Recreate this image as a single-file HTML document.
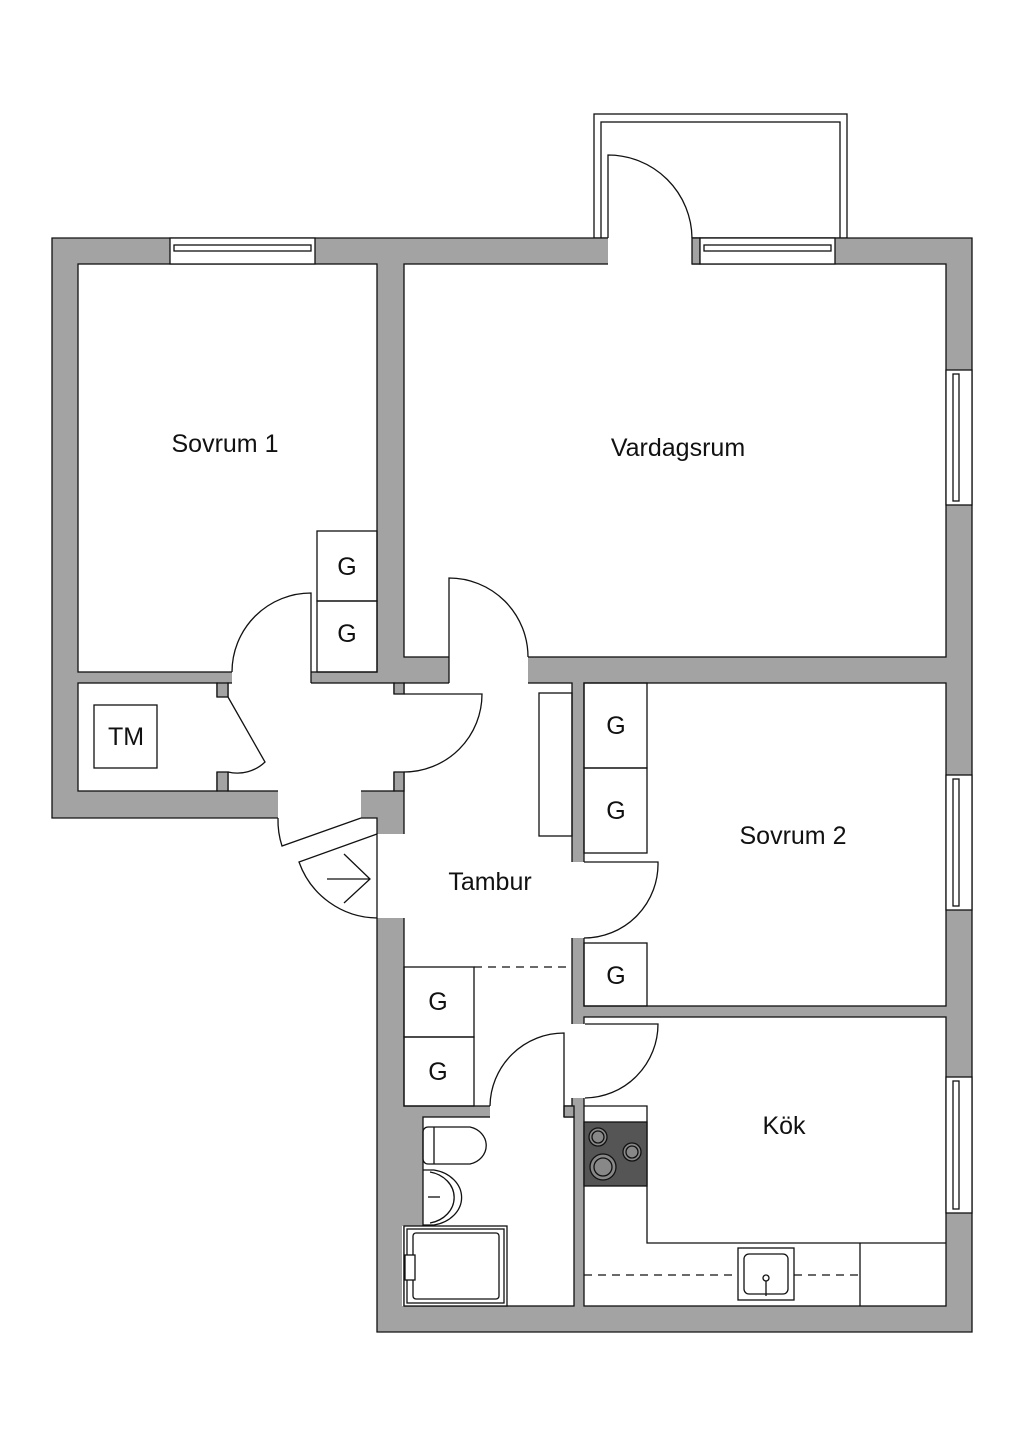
<!DOCTYPE html>
<html><head><meta charset="utf-8"><style>
html,body{margin:0;padding:0;background:#fff}
svg{display:block}
text{font-family:"Liberation Sans","DejaVu Sans",sans-serif;fill:#111}
</style></head><body>
<svg width="1024" height="1448" viewBox="0 0 1024 1448" xmlns="http://www.w3.org/2000/svg">
<g stroke="#111" stroke-width="1.3">
<rect x="594" y="114" width="253" height="124" fill="#fff"/>
<rect x="601" y="122" width="239" height="116" fill="#fff"/>
<polygon points="52,238 972,238 972,1332 377,1332 377,818 52,818" fill="#a3a3a3"/>
<rect x="78" y="264" width="299" height="408" fill="#fff"/>
<rect x="404" y="264" width="542" height="393" fill="#fff"/>
<rect x="78" y="683" width="139" height="108" fill="#fff"/>
<rect x="228" y="683" width="166" height="108" fill="#fff"/>
<rect x="404" y="683" width="168" height="423" fill="#fff"/>
<rect x="584" y="683" width="362" height="323" fill="#fff"/>
<rect x="584" y="1017" width="362" height="289" fill="#fff"/>
<rect x="423" y="1117" width="151" height="189" fill="#fff"/>
</g>
<g fill="#fff">
<rect x="232" y="670" width="79" height="15"/>
<rect x="278" y="789" width="83" height="30"/>
<rect x="215" y="697" width="15" height="75"/>
<rect x="392" y="694" width="14" height="78"/>
<rect x="449" y="655" width="79" height="30"/>
<rect x="375" y="834" width="31" height="84"/>
<rect x="570" y="862" width="16" height="76"/>
<rect x="570" y="1024" width="16" height="74"/>
<rect x="490" y="1104" width="74" height="15"/>
<rect x="402" y="1226" width="23" height="80"/>
<rect x="608" y="236" width="84" height="30"/>
</g>
<g stroke="#111" stroke-width="1.3" fill="none">
<rect x="394" y="683" width="10" height="11" fill="#a3a3a3"/>
<rect x="394" y="772" width="10" height="19" fill="#a3a3a3"/>
<rect x="217" y="683" width="11" height="14" fill="#a3a3a3"/>
<rect x="217" y="772" width="11" height="19" fill="#a3a3a3"/>
<rect x="692" y="238" width="8" height="26" fill="#a3a3a3"/>
<rect x="564" y="1106" width="10" height="11" fill="#a3a3a3"/>
<line x1="404" y1="1226" x2="404" y2="1306"/>
<line x1="404" y1="1306" x2="423" y2="1306"/>
<rect x="170" y="238" width="145" height="26" fill="#fff"/>
<rect x="174" y="245" width="137" height="6"/>
<rect x="700" y="238" width="135" height="26" fill="#fff"/>
<rect x="704" y="245" width="127" height="6"/>
<rect x="946" y="370" width="26" height="135" fill="#fff"/>
<rect x="953" y="374" width="6" height="127"/>
<rect x="946" y="775" width="26" height="135" fill="#fff"/>
<rect x="953" y="779" width="6" height="127"/>
<rect x="946" y="1077" width="26" height="136" fill="#fff"/>
<rect x="953" y="1081" width="6" height="128"/>
<path d="M608,238 V155 A84,84 0 0 1 692,238"/>
<path d="M311,683 V593 A79,79 0 0 0 232,672"/>
<path d="M449,683 V578 A79,79 0 0 1 528,657"/>
<path d="M404,694 H482 A78,78 0 0 1 404,772"/>
<path d="M228,697 L265,762 A40,40 0 0 1 228,772"/>
<path d="M278,818 A83,83 0 0 0 282,846 L361,818"/>
<path d="M377,834 L299,862 A84,84 0 0 0 377,918 Z"/>
<path d="M327,879 H370 M344,854 L370,879 L344,903"/>
<path d="M584,862 H658 A74,74 0 0 1 584,938"/>
<path d="M585,1024 H658 A74,74 0 0 1 585,1098"/>
<path d="M564,1117 V1033 A74,74 0 0 0 490,1106"/>
<rect x="317" y="531" width="60" height="70"/>
<rect x="317" y="601" width="60" height="71"/>
<rect x="94" y="705" width="63" height="63"/>
<rect x="539" y="693" width="33" height="143"/>
<rect x="584" y="683" width="63" height="85"/>
<rect x="584" y="768" width="63" height="85"/>
<rect x="584" y="943" width="63" height="63"/>
<rect x="404" y="967" width="70" height="70"/>
<rect x="404" y="1037" width="70" height="69"/>
<line x1="474" y1="967" x2="572" y2="967" stroke-dasharray="8,6"/>
<path d="M584,1106 H647 V1243 H946"/>
<line x1="860" y1="1243" x2="860" y2="1306"/>
<line x1="584" y1="1275" x2="860" y2="1275" stroke-dasharray="8,6"/>
<rect x="584" y="1122" width="63" height="64" fill="#555"/>
<circle cx="598" cy="1137" r="9" fill="#888"/><circle cx="598" cy="1137" r="6"/>
<circle cx="632" cy="1152" r="9" fill="#888"/><circle cx="632" cy="1152" r="6"/>
<circle cx="603" cy="1167" r="13" fill="#888"/><circle cx="603" cy="1167" r="9"/>
<rect x="738" y="1248" width="56" height="52" fill="#fff"/>
<rect x="744" y="1254" width="44" height="40" rx="5"/>
<circle cx="766" cy="1278" r="3"/><line x1="766" y1="1281" x2="766" y2="1296"/>
<path d="M428,1127 H470 A21,19 0 0 1 470,1164 H428 A5,5 0 0 1 423,1159 V1132 A5,5 0 0 1 428,1127"/>
<line x1="434" y1="1127" x2="434" y2="1164"/>
<path d="M423,1170 H434 A34,28 0 0 1 434,1225 H423"/>
<path d="M430,1172 A30,26 0 0 1 430,1223"/>
<line x1="428" y1="1197" x2="440" y2="1197"/>
<rect x="404" y="1226" width="103" height="80" fill="#fff"/>
<rect x="407" y="1229" width="97" height="74"/>
<rect x="413" y="1233" width="86" height="66" rx="3"/>
<rect x="405" y="1255" width="10" height="25" fill="#fff"/>
</g>
<g font-size="25" text-anchor="middle">
<text x="225" y="452">Sovrum 1</text>
<text x="678" y="456">Vardagsrum</text>
<text x="793" y="844">Sovrum 2</text>
<text x="490" y="890">Tambur</text>
<text x="784" y="1134">Kök</text>
<text x="126" y="745">TM</text>
<text x="347" y="575">G</text>
<text x="347" y="642">G</text>
<text x="616" y="734">G</text>
<text x="616" y="819">G</text>
<text x="616" y="984">G</text>
<text x="438" y="1010">G</text>
<text x="438" y="1080">G</text>
</g>
</svg>
</body></html>
